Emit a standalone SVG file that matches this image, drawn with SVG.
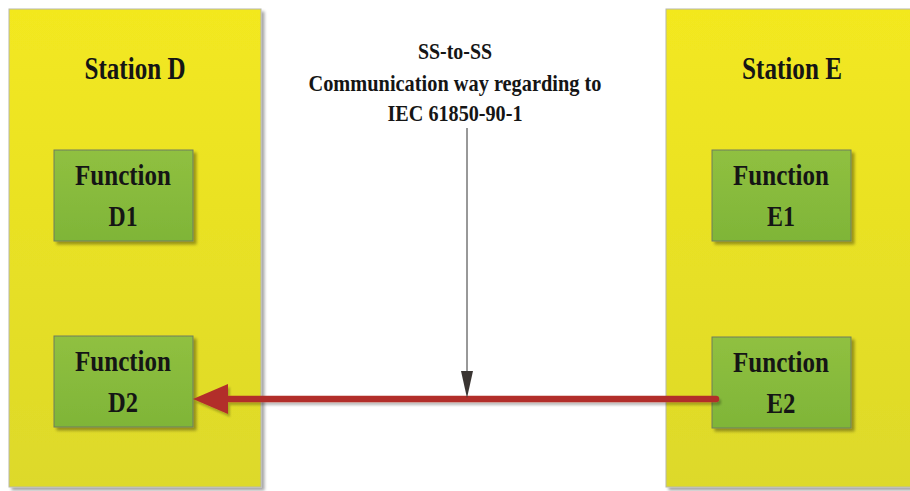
<svg xmlns="http://www.w3.org/2000/svg" width="910" height="491" viewBox="0 0 910 491">
<defs>
<linearGradient id="yel" x1="0" y1="0" x2="0" y2="1">
<stop offset="0" stop-color="#f3e81f"/>
<stop offset="1" stop-color="#ddd92a"/>
</linearGradient>
<linearGradient id="grn" x1="0" y1="0" x2="0" y2="1">
<stop offset="0" stop-color="#90c040"/>
<stop offset="1" stop-color="#7fb538"/>
</linearGradient>
<filter id="sh" x="-10%" y="-10%" width="130%" height="130%">
<feGaussianBlur in="SourceAlpha" stdDeviation="1.5"/>
<feOffset dx="3" dy="3" result="b"/>
<feComponentTransfer><feFuncA type="linear" slope="0.35"/></feComponentTransfer>
<feMerge><feMergeNode/><feMergeNode in="SourceGraphic"/></feMerge>
</filter>
<filter id="lsh" x="-5%" y="-100%" width="110%" height="300%">
<feGaussianBlur in="SourceAlpha" stdDeviation="1"/>
<feOffset dx="2" dy="3"/>
<feComponentTransfer><feFuncA type="linear" slope="0.25"/></feComponentTransfer>
<feMerge><feMergeNode/><feMergeNode in="SourceGraphic"/></feMerge>
</filter>
</defs>
<style>
.st{fill:url(#yel);stroke:#b8b8a8;stroke-width:1;filter:url(#sh)}
.fn{fill:url(#grn);stroke:#6f7c5e;stroke-width:1;filter:url(#sh)}
.t{font-family:'Liberation Serif','Times New Roman',serif;font-weight:bold;fill:#151515;text-anchor:middle}
.big{font-size:32px}
.mid{font-size:29px}
.lab{font-size:23px}
</style>
<rect width="910" height="491" fill="#ffffff"/>
<g id="stationD">
<rect class="st" x="9" y="9" width="252" height="478"/>
<text class="t big" x="135" y="79" textLength="101" lengthAdjust="spacingAndGlyphs">Station D</text>
</g>
<g id="stationE">
<rect class="st" x="666" y="9" width="250" height="478"/>
<text class="t big" x="792" y="79" textLength="100" lengthAdjust="spacingAndGlyphs">Station E</text>
</g>
<g id="functionD1">
<rect class="fn" x="54" y="150" width="139" height="91"/>
<text class="t mid" x="123" y="185" textLength="96" lengthAdjust="spacingAndGlyphs">Function</text>
<text class="t mid" x="123" y="226" textLength="29" lengthAdjust="spacingAndGlyphs">D1</text>
</g>
<g id="functionD2">
<rect class="fn" x="54" y="336" width="139" height="91"/>
<text class="t mid" x="123" y="371" textLength="96" lengthAdjust="spacingAndGlyphs">Function</text>
<text class="t mid" x="123" y="412" textLength="30" lengthAdjust="spacingAndGlyphs">D2</text>
</g>
<g id="functionE1">
<rect class="fn" x="712" y="150" width="139" height="91"/>
<text class="t mid" x="781" y="185" textLength="96" lengthAdjust="spacingAndGlyphs">Function</text>
<text class="t mid" x="781" y="226" textLength="28" lengthAdjust="spacingAndGlyphs">E1</text>
</g>
<g id="functionE2">
<rect class="fn" x="712" y="337" width="139" height="91"/>
<text class="t mid" x="781" y="372" textLength="96" lengthAdjust="spacingAndGlyphs">Function</text>
<text class="t mid" x="781" y="413" textLength="29" lengthAdjust="spacingAndGlyphs">E2</text>
</g>
<g id="label">
<text class="t lab" x="455" y="59" textLength="74" lengthAdjust="spacingAndGlyphs">SS-to-SS</text>
<text class="t lab" x="455" y="91" textLength="293" lengthAdjust="spacingAndGlyphs">Communication way regarding to</text>
<text class="t lab" x="455" y="121" textLength="135" lengthAdjust="spacingAndGlyphs">IEC 61850-90-1</text>
</g>
<g id="connectors">
<g filter="url(#lsh)">
<line x1="716" y1="399" x2="226" y2="399" stroke="#b22f2b" stroke-width="6.5" stroke-linecap="round"/>
<polygon points="193,399 228,384 228,414" fill="#b22f2b"/>
</g>
<line x1="467" y1="128" x2="467" y2="373" stroke="#333" stroke-width="1"/>
<polygon points="461,371 473,371 467,398" fill="#3a3532"/>
</g>
</svg>
